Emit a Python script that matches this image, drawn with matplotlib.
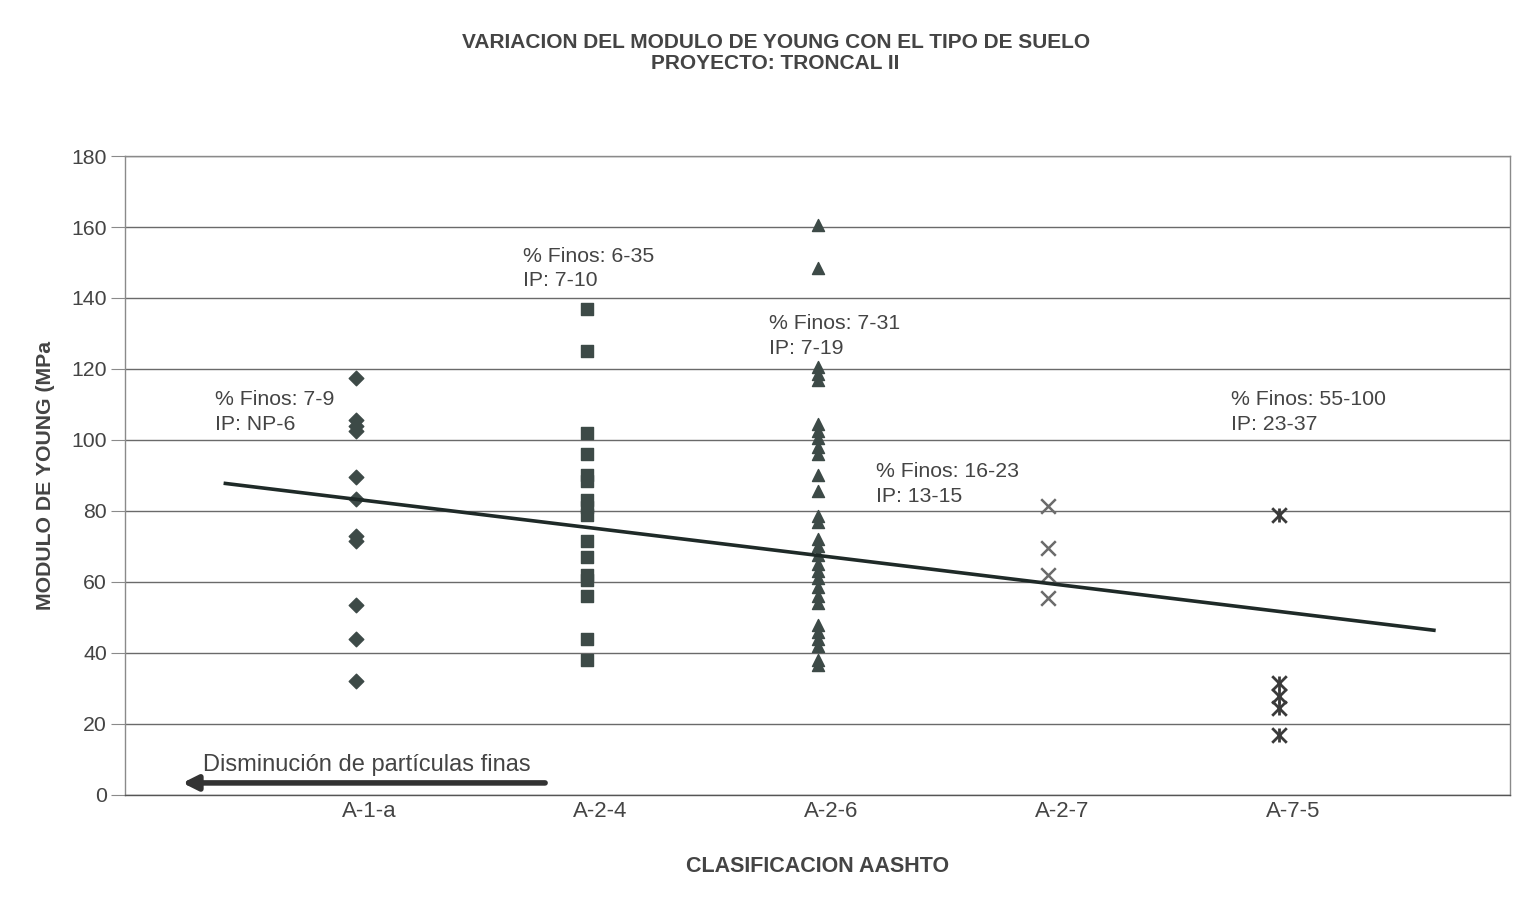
import matplotlib
matplotlib.use("Agg")
import matplotlib.pyplot as plt
import numpy as np

plt.rcParams['font.family'] = ['Liberation Sans', 'DejaVu Sans']

categories = ["A-1-a", "A-2-4", "A-2-6", "A-2-7", "A-7-5"]

a1a = [117.5, 105.5, 104, 102.5, 89.5, 83.5, 73, 71.5, 53.5, 44, 32]
a24 = [137, 125, 102, 96, 90, 88.5, 83, 81, 79, 71.5, 67, 62, 60.5, 56, 44, 38]
a26 = [160.5, 148.5, 120.5, 118.5, 117, 104.5, 102.5, 100.5, 98, 96, 90, 85.5,
       78.5, 77, 72, 70, 67.5, 65, 63, 61, 58.5, 56, 54, 48, 46, 44, 42, 38, 36.5]
a27 = [81.5, 69.5, 62, 55.5]
a75 = [79, 31.5, 28, 24.5, 17]

trend_x = [0.435, 5.67]
trend_intercept = 91.2
trend_slope = -7.9

notes = [
    ("% Finos: 7-9", "IP: NP-6"),
    ("% Finos: 6-35", "IP: 7-10"),
    ("% Finos: 7-31", "IP: 7-19"),
    ("% Finos: 16-23", "IP: 13-15"),
    ("% Finos: 55-100", "IP: 23-37"),
]
note_pos = [(0.392, 111.3), (1.725, 151.8), (2.789, 132.7), (3.254, 91.0), (4.79, 111.3)]

fig = plt.figure(figsize=(15.39, 9.07), dpi=100)
fig.patch.set_facecolor('white')
ax = fig.add_axes([0.0812, 0.1235, 0.9, 0.7045])

ax.set_xlim(0, 6)
ax.set_ylim(0, 180)
ax.set_yticks(np.arange(0, 181, 20))
ax.grid(axis='y', color='#6a6a6a', linewidth=1.0)
ax.set_axisbelow(True)
for s in ['left', 'bottom', 'right', 'top']:
    ax.spines[s].set_color('#8a8a8a')
    ax.spines[s].set_linewidth(1.0)
ax.spines['bottom'].set_color('#555555')

mc = '#3d4a47'
ax.scatter(np.full(len(a1a), 1), a1a, marker='D', s=55, color=mc, zorder=3)
ax.scatter(np.full(len(a24), 2), a24, marker='s', s=65, color=mc, zorder=3)
ax.scatter(np.full(len(a26), 3), a26, marker='^', s=75, color=mc, zorder=3)
ax.scatter(np.full(len(a27), 4), a27, marker='x', s=110, color='#6b6b6b', linewidths=1.8, zorder=3)
ax.scatter(np.full(len(a75), 5), a75, marker='x', s=110, color='#3a3a3a', linewidths=2.0, zorder=3)
ax.scatter(np.full(len(a75), 5), a75, marker='|', s=110, color='#3a3a3a', linewidths=2.0, zorder=3)

tx = np.array(trend_x)
ax.plot(tx, trend_intercept + trend_slope * tx, color='#1f2a28', linewidth=2.6, zorder=4)

for (l1, l2), (x, y) in zip(notes, note_pos):
    ax.text(x, y, l1, fontsize=15.3, color='#444444', ha='left', va='center')
    ax.text(x, y - 6.8, l2, fontsize=15.3, color='#444444', ha='left', va='center')

ax.text(0.336, 8.5, "Disminución de partículas finas", fontsize=17, color='#444444',
        ha='left', va='center')
ax.annotate("", xy=(0.249, 3.4), xytext=(1.82, 3.4),
            arrowprops=dict(arrowstyle='-|>', color='#333333', lw=4,
                            mutation_scale=22, shrinkA=0, shrinkB=0))

ax.set_xticks([i + 0.06 for i in range(1, 6)])
ax.set_xticklabels(categories)
ax.tick_params(axis='x', length=0, labelsize=16, labelcolor='#444444', pad=4)
ax.tick_params(axis='y', length=10, direction='out', color='#8a8a8a',
               labelsize=15.3, labelcolor='#444444', pad=3)

ax.set_ylabel("MODULO DE YOUNG (MPa", fontsize=15.3, fontweight='bold', color='#444444', labelpad=12)
ax.set_xlabel("CLASIFICACION AASHTO", fontsize=15.5, fontweight='bold', color='#444444', labelpad=25)

fig.text(0.504, 0.953, "VARIACION DEL MODULO DE YOUNG CON EL TIPO DE SUELO",
         fontsize=15, fontweight='bold', color='#444444', ha='center', va='center')
fig.text(0.504, 0.930, "PROYECTO: TRONCAL II",
         fontsize=15, fontweight='bold', color='#444444', ha='center', va='center')

fig.savefig("out.png", dpi=100, facecolor='white')
